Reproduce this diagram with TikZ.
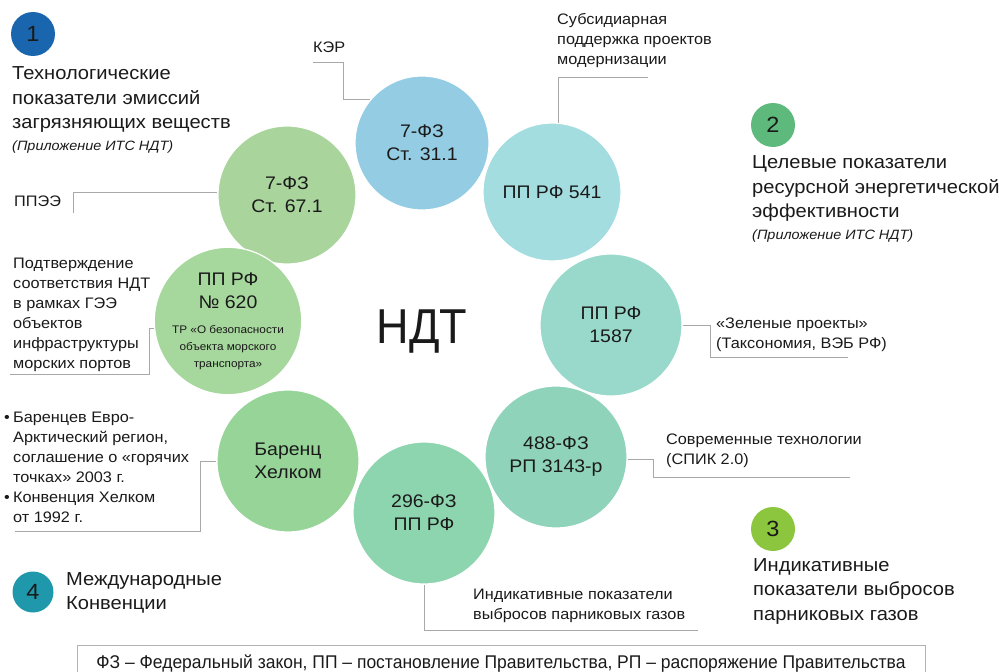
\documentclass[tikz,border=0pt]{standalone}
\usepackage{fontspec}
\setmainfont[FakeStretch=1.07]{Liberation Sans}
\newfontfamily\narrowfont[FakeStretch=0.92]{Liberation Sans}
\newfontfamily\legendfont[FakeStretch=0.95]{Liberation Sans}
\usetikzlibrary{positioning}
\definecolor{ink}{HTML}{1A1A1A}
\definecolor{wire}{HTML}{A8A8A8}
\definecolor{badgeA}{HTML}{1A66AE}
\definecolor{badgeB}{HTML}{5DBA7C}
\definecolor{badgeC}{HTML}{8CC63F}
\definecolor{badgeD}{HTML}{1F98AC}
\definecolor{cFzA}{HTML}{A9D49C}
\definecolor{cFzB}{HTML}{94CDE3}
\definecolor{cPpA}{HTML}{A3DDE0}
\definecolor{cPpB}{HTML}{98D9CB}
\definecolor{cFzC}{HTML}{8FD4BA}
\definecolor{cFzD}{HTML}{8DD5AE}
\definecolor{cBar}{HTML}{97D498}
\definecolor{cPpC}{HTML}{A6D79C}

\begin{document}
\begin{tikzpicture}[
    x=1pt, y=-1pt,
    ring/.style={circle, draw=white, line width=1.2pt, minimum size=138pt,
        inner sep=0pt, align=center, text=ink,
        font=\fontsize{18.2}{23}\selectfont},
    badge/.style={circle, minimum size=44pt, inner sep=0pt, text=ink,
        font=\fontsize{22}{22}\selectfont},
    head/.style={anchor=west, align=left, inner sep=0pt, text=ink,
        font=\fontsize{18.8}{24.5}\selectfont},
    note/.style={anchor=west, align=left, inner sep=0pt, text=ink,
        font=\fontsize{15.2}{20}\selectfont},
    wire/.style={draw=wire, line width=0.9pt},
]
\useasboundingbox (0,0) rectangle (999,672);
\clip (0,0) rectangle (999,672);

% ring of documents
\node[ring, fill=cFzA] (fz671) at (287,195) {7-ФЗ\\Ст. 67.1};
\node[ring, fill=cFzB, minimum size=134pt] (fz311) at (422,143) {7-ФЗ\\Ст. 31.1};
\node[ring, fill=cPpA] (pp541) at (552,192) {ПП РФ 541};
\node[ring, fill=cPpB, minimum size=142pt] (pp1587) at (611,325) {ПП РФ\\1587};
\node[ring, fill=cFzC, minimum size=142pt] (fz488) at (556,457) {488-ФЗ\\РП 3143-р};
\node[ring, fill=cFzD, minimum size=142pt] (fz296) at (424,513) {296-ФЗ\\ПП РФ};
\node[ring, fill=cBar, minimum size=142pt] (bar) at (288,461) {Баренц\\Хелком};
\node[ring, fill=cPpC, minimum size=126pt] (pp620) at (228,321)
    {ПП РФ\\№ 620\\[2pt]{\fontsize{11}{15.5}\selectfont ТР «О безопасности}\\[-6pt]
     {\fontsize{11}{15.5}\selectfont объекта морского}\\[-6pt]
     {\fontsize{11}{15.5}\selectfont транспорта»}};

\node[font=\narrowfont\fontsize{49}{49}\selectfont, text=ink] (ndt) at (422,332) {НДТ};

% numbered groups
\node[badge, fill=badgeA] (b1) at (33,34) {1};
\node[badge, fill=badgeB] (b2) at (773,125) {2};
\node[badge, fill=badgeC] (b3) at (773,529) {3};
\node[badge, fill=badgeD, minimum size=41pt] (b4) at (33,592) {4};

\node[head] (h1) at (12,110) {Технологические\\показатели эмиссий\\загрязняющих веществ\\[-3pt]
    {\fontsize{13.5}{15}\selectfont\itshape (Приложение ИТС НДТ)}};
\node[head] (h2) at (752,199) {Целевые показатели\\ресурсной энергетической\\эффективности\\[-3pt]
    {\fontsize{13.5}{15}\selectfont\itshape (Приложение ИТС НДТ)}};
\node[head] (h3) at (753,591) {Индикативные\\показатели выбросов\\парниковых газов};
\node[head] (h4) at (66,593) {Международные\\Конвенции};

% notes
\node[note] (ker) at (313,47) {КЭР};
\node[note] (subs) at (557,41) {Субсидиарная\\поддержка проектов\\модернизации};
\node[note] (ppee) at (14,201) {ППЭЭ};
\node[note] (conf) at (13,315) {Подтверждение\\соответствия НДТ\\в рамках ГЭЭ\\объектов\\инфраструктуры\\морских портов};
\node[note] (conv) at (4,467) {\makebox[9pt][l]{•}Баренцев Евро-\\\hspace*{9pt}Арктический регион,\\
    \hspace*{9pt}соглашение о «горячих\\\hspace*{9pt}точках» 2003 г.\\
    \makebox[9pt][l]{•}Конвенция Хелком\\\hspace*{9pt}от 1992 г.};
\node[note] (green) at (716,335) {«Зеленые проекты»\\(Таксономия, ВЭБ РФ)};
\node[note] (tech) at (666,451) {Современные технологии\\(СПИК 2.0)};
\node[note] (ghg) at (473,606) {Индикативные показатели\\выбросов парниковых газов};

% connectors
\coordinate (kerA) at (313,62);
\coordinate (subA) at (648,77);
\coordinate (ppeeA) at (73,213);
\coordinate (confA) at (10,374);
\coordinate (convA) at (15,531);
\coordinate (greenA) at (848,357);
\coordinate (techA) at (850,477);
\coordinate (ghgA) at (698,630);

\draw[wire] (kerA) -- ++(30,0) |- (fz311.140);
\draw[wire] (subA) -| (pp541.85);
\draw[wire] (ppeeA) |- (fz671.178);
\draw[wire] (confA) -- ++(139,0) |- (pp620.186);
\draw[wire] (convA) -- ++(185,0) |- (bar.west);
\draw[wire] (greenA) -- ++(-138,0) |- (pp1587.east);
\draw[wire] (techA) -- ++(-197,0) |- (fz488.358);
\draw[wire] (ghgA) -| (fz296.south);

% legend
\node[draw=black!30, line width=1pt, minimum width=848pt, minimum height=38pt,
    text=ink, font=\legendfont\fontsize{18.4}{20}\selectfont] (legend) at (501,664)
    {ФЗ – Федеральный закон, ПП – постановление Правительства, РП – распоряжение Правительства};
\end{tikzpicture}
\end{document}
